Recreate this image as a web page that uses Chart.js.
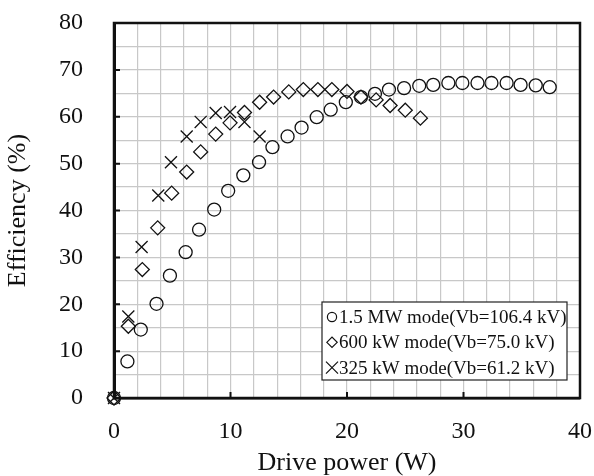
<!DOCTYPE html>
<html>
<head>
<meta charset="utf-8">
<script src="https://cdn.jsdelivr.net/npm/chart.js@4.4.1/dist/chart.umd.min.js"></script>
<style>
  html, body { margin: 0; padding: 0; background: #fff; }
  #wrap { width: 594px; height: 476px; }
</style>
</head>
<body>
<div id="wrap"><canvas id="chart"></canvas></div>
<script>
// Drive power (W) vs efficiency (%) for three operating modes
const seriesNames = [
  "1.5 MW mode(Vb=106.4 kV)",
  "600 kW mode(Vb=75.0 kV)",
  "325 kW mode(Vb=61.2 kV)",
];
const seriesStyles = ["circle", "rectRot", "crossRot"];

const power1500 = [0, 1.15, 2.3, 3.65, 4.8, 6.15, 7.3, 8.6, 9.8, 11.1, 12.45, 13.6, 14.9, 16.1, 17.4, 18.6,
  19.9, 21.2, 22.4, 23.6, 24.9, 26.2, 27.4, 28.7, 29.9, 31.2, 32.4, 33.7, 34.9, 36.2, 37.4];
const eff1500 = [0, 7.8, 14.6, 20.1, 26.1, 31.1, 35.9, 40.2, 44.2, 47.5, 50.3, 53.5, 55.8, 57.7, 59.9, 61.5,
  63.1, 64.2, 64.9, 65.8, 66.1, 66.6, 66.8, 67.2, 67.2, 67.2, 67.2, 67.2, 66.8, 66.7, 66.3];

const power600 = [0, 1.23, 2.43, 3.75, 4.95, 6.24, 7.44, 8.73, 9.96, 11.2, 12.5, 13.7, 15.0, 16.25, 17.5,
  18.7, 20.0, 21.2, 22.5, 23.7, 25.0, 26.3];
const eff600 = [0, 15.3, 27.4, 36.3, 43.7, 48.2, 52.5, 56.3, 58.7, 60.9, 63.1, 64.2, 65.3, 65.8, 65.8,
  65.8, 65.4, 64.2, 63.6, 62.4, 61.4, 59.7];

const power325 = [0, 1.23, 2.37, 3.8, 4.89, 6.24, 7.44, 8.73, 9.96, 11.2, 12.5];
const eff325 = [0, 17.4, 32.2, 43.2, 50.3, 55.8, 58.9, 60.8, 61.0, 58.9, 55.8];

const xMajor = [10, 20, 30];
const yMajor = [10, 20, 30, 40, 50, 60, 70];

const SERIF = "'Liberation Serif', 'Times New Roman', serif";
const INK = "#111";

const toPoints = (xs, ys) => xs.map((x, i) => ({ x, y: ys[i] }));

function dataset(i, xs, ys, radius) {
  return {
    label: seriesNames[i],
    data: toPoints(xs, ys),
    pointStyle: seriesStyles[i],
    pointRadius: radius,
    pointBorderColor: INK,
    pointBackgroundColor: "rgba(0,0,0,0)",
    pointBorderWidth: 1.3,
    showLine: false,
    clip: false,
  };
}

// fixed scale sizes; drop the label overhang padding so layout.padding decides the plot box
function fixSize(prop, size) {
  return (s) => {
    s[prop] = size;
    s.paddingTop = s.paddingBottom = s.paddingLeft = s.paddingRight = 0;
  };
}

// plot frame, inward major ticks and boxed legend
const frame = {
  id: "frame",
  beforeDatasetsDraw(chart) {
    const { ctx, chartArea: a, scales } = chart;
    ctx.save();
    ctx.strokeStyle = INK;
    ctx.lineWidth = 2;
    ctx.beginPath();
    for (const v of yMajor) {
      const py = scales.y.getPixelForValue(v);
      ctx.moveTo(a.left, py);
      ctx.lineTo(a.left + 6, py);
    }
    for (const v of xMajor) {
      const px = scales.x.getPixelForValue(v);
      ctx.moveTo(px, a.bottom);
      ctx.lineTo(px, a.bottom - 6);
    }
    ctx.stroke();
    ctx.lineWidth = 2.5;
    ctx.strokeRect(a.left, a.top, a.right - a.left, a.bottom - a.top);
    ctx.restore();
  },
  afterDraw(chart) {
    const { ctx, chartArea: a } = chart;
    const w = 245, h = 78;
    const bx = a.right - 13 - w;
    const by = a.bottom - 18 - h;
    ctx.save();
    ctx.fillStyle = "#fff";
    ctx.fillRect(bx, by, w, h);
    ctx.strokeStyle = "#222";
    ctx.lineWidth = 1.2;
    ctx.strokeRect(bx, by, w, h);
    const radii = [4.6, 5.2, 8.5];
    ctx.font = "19px " + SERIF;
    ctx.textBaseline = "middle";
    seriesNames.forEach((name, i) => {
      const cy = by + 15 + i * 25.3;
      ctx.strokeStyle = INK;
      ctx.fillStyle = "rgba(0,0,0,0)";
      ctx.lineWidth = 1.2;
      Chart.helpers.drawPoint(ctx, { pointStyle: seriesStyles[i], radius: radii[i], rotation: 0, borderWidth: 1.2 }, bx + 10, cy);
      ctx.fillStyle = INK;
      ctx.fillText(name, bx + 17, cy + 1);
    });
    ctx.restore();
  },
};

new Chart(document.getElementById("chart"), {
  type: "scatter",
  data: {
    datasets: [
      dataset(0, power1500, eff1500, 6.5),
      dataset(1, power600, eff600, 7),
      dataset(2, power325, eff325, 8.5),
    ],
  },
  options: {
    responsive: true,
    maintainAspectRatio: false,
    animation: false,
    layout: { padding: { top: 23, right: 14, left: 0, bottom: 0 } },
    plugins: { legend: { display: false }, tooltip: { enabled: false } },
    scales: {
      x: {
        type: "linear",
        min: 0,
        max: 40,
        afterFit: fixSize("height", 78),
        ticks: {
          stepSize: 2,
          autoSkip: false,
          maxRotation: 0,
          padding: 19,
          color: INK,
          font: { family: SERIF, size: 24 },
          callback: (v) => (v % 10 === 0 ? v : ""),
        },
        grid: { color: "#c8c8c8", lineWidth: 1.2, drawTicks: false },
        border: { color: INK, width: 2.5 },
        title: {
          display: true,
          text: "Drive power (W)",
          color: INK,
          font: { family: SERIF, size: 26, lineHeight: 1 },
          padding: { top: 0, bottom: 0 },
        },
      },
      y: {
        min: 0,
        max: 80,
        afterFit: fixSize("width", 114),
        ticks: {
          stepSize: 5,
          autoSkip: false,
          padding: 31,
          color: INK,
          font: { family: SERIF, size: 24 },
          callback: (v) => (v % 10 === 0 ? v : ""),
        },
        grid: { color: "#c8c8c8", lineWidth: 1.2, drawTicks: false },
        border: { color: INK, width: 3 },
        title: {
          display: true,
          text: "Efficiency (%)",
          color: INK,
          font: { family: SERIF, size: 26, lineHeight: 1 },
          padding: { top: 5, bottom: 0 },
        },
      },
    },
  },
  plugins: [frame],
});
</script>
</body>
</html>
